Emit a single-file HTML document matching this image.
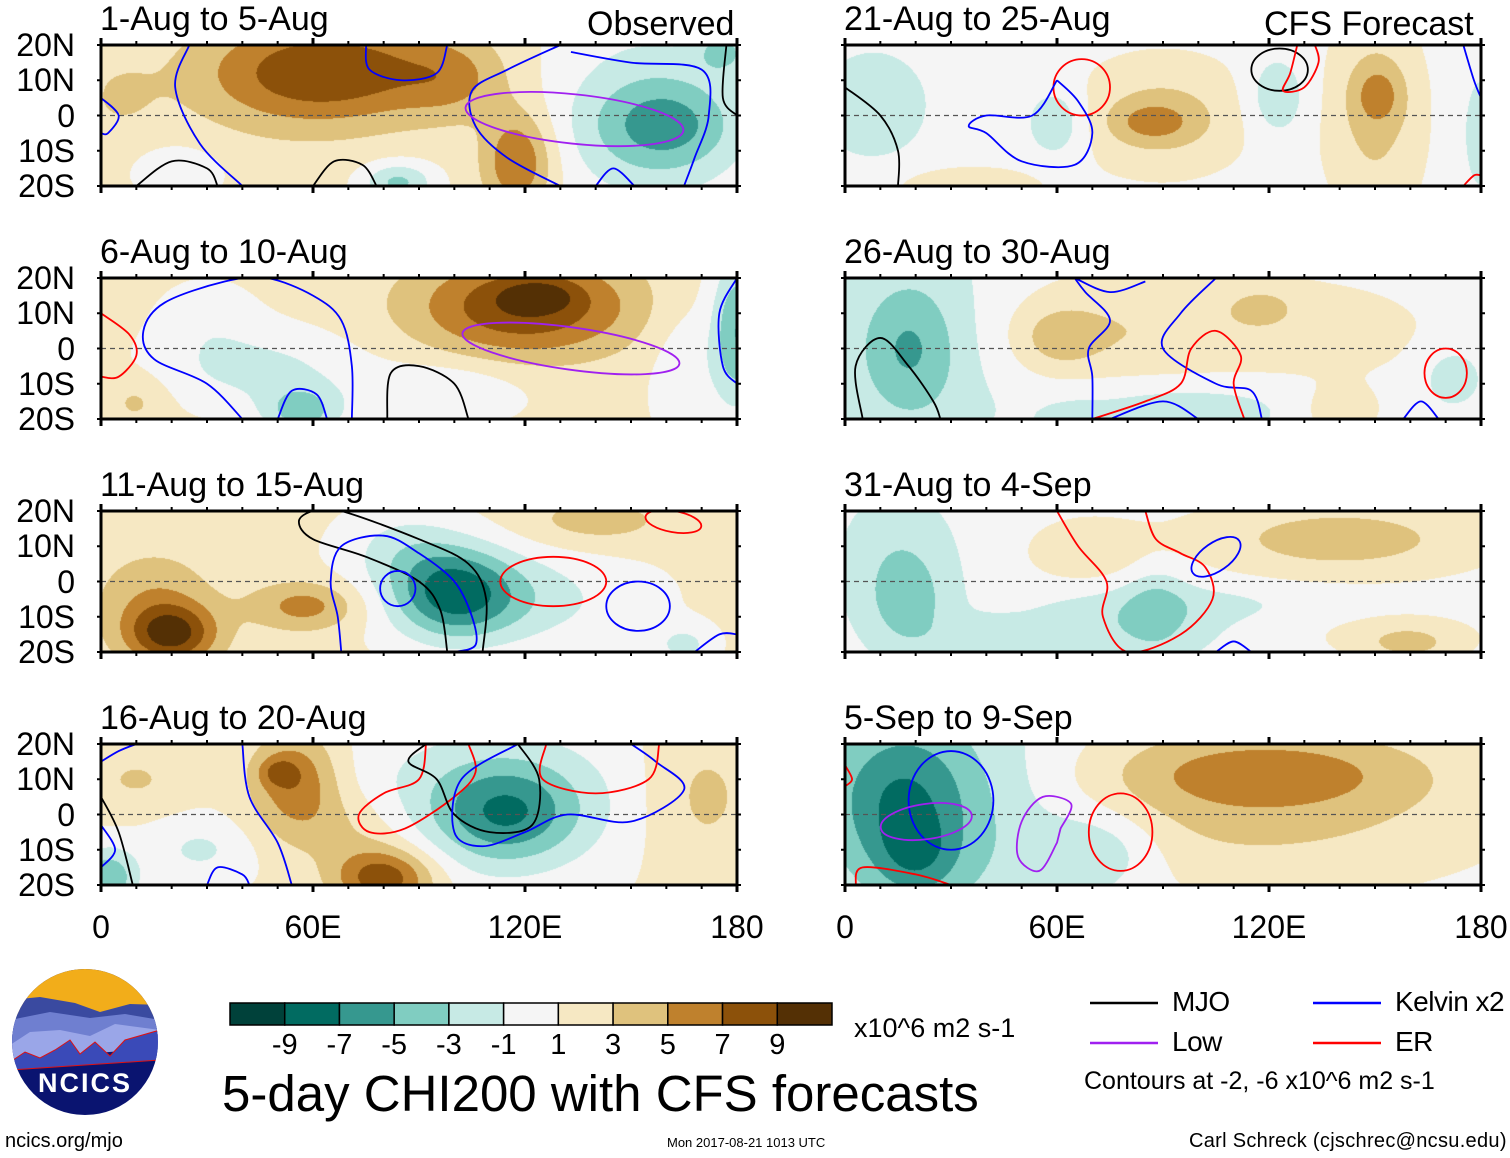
<!DOCTYPE html>
<html><head><meta charset="utf-8">
<style>
body{margin:0;background:#fff;width:1510px;height:1158px;overflow:hidden;position:relative;font-family:"Liberation Sans",Arial,sans-serif;}
.t{position:absolute;white-space:nowrap;color:#000;line-height:1;}
canvas{position:absolute;}
svg{position:absolute;left:0;top:0;}
</style></head>
<body>
<div id="root"></div>
<svg id="ov" width="1510" height="1158"></svg>
<script>
// ---------- data ----------
const panelTitles=["1-Aug to 5-Aug","6-Aug to 10-Aug","11-Aug to 15-Aug","16-Aug to 20-Aug","21-Aug to 25-Aug","26-Aug to 30-Aug","31-Aug to 4-Sep","5-Sep to 9-Sep"];
const panelBase=[1.5,1.5,1.5,1.2,0,0,0,0];
// anomaly blobs: [lon, lat, sigmaLon, sigmaLat, amplitude]
const blobs1=[[68,13,25,10,5.3],[55,10,22,12,2.5],[118,-13,7,10,6],[100,10,10,8,2.5],[84,-19,7,4,-5],[160,-3,14,9,-4.5],[155,0,22,22,-3.5],[176,18,5,4,-4],[22,-16,8,5,-2.5],[5,5,8,8,1.5]];
const blobs2=[[120,12,22,10,7.5],[124,15,7,3,3],[57,-18,8,5,-5],[45,-6,20,8,-3],[98,-12,15,6,-2.5],[180,5,5,15,-6.5],[165,-5,7,15,-2],[10,-15,6,5,2],[30,8,10,8,-1.5]];
const blobs3=[[20,-15,9,6,7.5],[15,-5,12,10,3],[58,-7,11,5,4.5],[100,-3,12,9,-7.3],[115,-5,25,10,-3.5],[140,17,15,5,2.5],[85,10,12,8,-2.5],[165,-18,6,4,-3]];
const blobs4=[[55,10,9,10,5.5],[50,12,4,3,3],[80,-18,10,6,7.5],[68,-4,14,8,2.5],[115,0,14,10,-5.5],[110,5,30,15,-3.5],[2,-18,6,6,-6],[10,10,10,6,2],[28,-10,10,6,-2.5],[170,5,12,15,2.5]];
const blobs5=[[87,-2,8,4,3],[90,0,18,12,3.5],[151,6,5,6,3],[150,0,10,22,3.5],[8,3,10,10,-3],[60,-2,6,7,-3],[122,5,6,8,-3],[35,-20,15,4,2.5],[180,-5,3,10,-3]];
const blobs6=[[18,0,9,12,-3],[20,0,18,25,-2.5],[60,3,8,6,2.5],[75,5,25,12,2.5],[95,-17,25,6,-2.5],[65,-20,6,3,-2],[118,12,7,4,2],[130,5,30,12,1.8],[140,-18,8,5,2.5],[172,-8,6,6,-2.5]];
const blobs7=[[18,-8,8,10,-2.5],[40,-18,10,5,-2.5],[15,5,12,15,-2.5],[88,-7,6,8,-2.3],[80,-12,20,8,-2.5],[140,12,30,8,4],[68,8,12,7,2.5],[160,-18,10,4,2.5],[155,-15,20,5,1.5],[110,-6,25,4,-1]];
const blobs8=[[15,5,14,15,-4.5],[20,-12,8,8,-3],[30,0,28,25,-4],[120,12,28,7,3],[115,5,50,18,4],[72,-10,12,8,-3]];
const panelBlobs=[blobs1,blobs2,blobs3,blobs4,blobs5,blobs6,blobs7,blobs8];
const levelEdges=[-9,-7,-5,-3,-1,1,3,5,7,9];
const levelColors=["#00413a","#016b61","#36988f","#80cdc1","#c7eae5","#f5f5f5","#f6e8c3","#dfc27d","#bf812d","#8c510a","#543005"];
const cbLabels=["-9","-7","-5","-3","-1","1","3","5","7","9"];
const latLabels=["20N","10N","0","10S","20S"];
const lonLabels=["0","60E","120E","180"];
// contours: [type, closed, points[[lon,lat]...]] ; ellipses: ["E", type, lon, lat, rx, ry, rotDeg]
const cont1=[["k",0,[[75,20],[76,13],[85,10],[95,12],[98,20]]],["k",0,[[130,20],[115,13],[105,7],[106,-3],[115,-12],[130,-20]]],["k",0,[[133,18],[150,15],[170,13],[172,0],[168,-12],[165,-20]]],["k",0,[[0,5],[5,0],[2,-5],[0,-5]]],["k",0,[[25,20],[21,8],[28,-8],[40,-20]]],["m",0,[[10,-20],[20,-13],[30,-15],[33,-20]]],["m",0,[[60,-20],[66,-13],[74,-14],[78,-20]]],["m",0,[[177,20],[176,5],[180,0]]],["k",0,[[140,-20],[145,-15],[151,-20]]],["E","p",134,-1,31,7,6]];
const cont2=[["r",0,[[0,10],[8,4],[10,-2],[5,-8],[0,-8]]],["k",0,[[40,-20],[30,-10],[15,-3],[12,5],[18,13],[35,19],[47,20],[60,15],[68,8],[71,-5],[71,-20]]],["k",0,[[50,-20],[54,-12],[61,-13],[64,-20]]],["m",0,[[81,-20],[82,-7],[90,-5],[100,-10],[104,-20]]],["E","p",133,0,31,6,8],["k",0,[[180,20],[175,10],[176,-5],[180,-10]]]];
const cont3=[["m",0,[[98,-20],[96,-8],[90,0],[75,7],[60,12],[56,17],[60,20],[68,20],[90,12],[104,5],[109,-5],[108,-20]]],["k",0,[[68,-20],[67,-10],[65,0],[68,10],[80,13],[90,8],[100,0],[105,-10],[106,-18],[100,-20]]],["E","k",84,-2,5,5,0],["E","r",128,0,15,7,0],["E","k",152,-7,9,7,0],["k",0,[[168,-20],[175,-15],[180,-15]]],["E","r",162,17,8,3,10]];
const cont4=[["m",0,[[0,5],[5,-5],[9,-20]]],["k",0,[[0,-3],[4,-10],[0,-15]]],["k",0,[[0,15],[5,18],[10,20]]],["k",0,[[40,20],[42,5],[50,-8],[54,-20]]],["k",0,[[30,-20],[33,-15],[40,-17],[42,-20]]],["r",0,[[92,20],[90,10],[80,6],[73,0],[76,-5],[86,-4],[100,5],[106,12],[104,20]]],["m",0,[[92,20],[87,15],[95,10],[100,0],[110,-5],[122,-3],[124,10],[118,20]]],["k",0,[[118,20],[102,10],[100,-5],[108,-9],[120,-5],[132,0],[150,-2],[165,7],[157,15],[150,20]]],["r",0,[[126,20],[125,10],[140,6],[155,10],[158,20]]]];
const cont5=[["m",0,[[0,8],[10,0],[15,-10],[15,-20]]],["E","m",123,13,8,6,0],["r",0,[[128,20],[126,12],[124,7],[130,8],[134,15],[133,20]]],["E","r",67,8,8,8,0],["k",0,[[60,10],[66,4],[70,-5],[65,-14],[50,-13],[40,-5],[35,-3],[40,0],[53,0],[60,10]]],["k",0,[[175,20],[178,10],[180,5]]],["r",0,[[175,-20],[178,-17],[180,-17]]]];
const cont6=[["m",0,[[5,-20],[3,-5],[10,3],[18,-5],[25,-15],[27,-20]]],["k",0,[[70,-20],[70,-8],[69,0],[75,8],[68,16],[65,20]]],["k",0,[[65,20],[75,16],[85,19]]],["k",0,[[105,20],[95,10],[90,0],[105,-10],[115,-12],[118,-20]]],["r",0,[[70,-20],[85,-15],[95,-10],[98,0],[105,5],[112,-2],[110,-10],[113,-20]]],["k",0,[[75,-20],[90,-15],[100,-20]]],["E","r",170,-7,6,7,0],["k",0,[[158,-20],[163,-15],[168,-20]]]];
const cont7=[["r",0,[[60,20],[66,10],[74,0],[73,-10],[80,-20],[95,-15],[104,-5],[102,4],[95,8],[88,12],[85,20]]],["E","k",105,7,8,4,-35],["k",0,[[105,-20],[110,-17],[115,-20]]]];
const cont8=[["E","k",30,4,12,14,0],["E","p",23,-2,13,5,-8],["p",1,[[60,-8],[55,-16],[49,-12],[50,-2],[56,5],[64,3],[61,-4]]],["E","r",78,-5,9,11,0],["r",0,[[3,-20],[5,-15],[20,-17],[30,-20]]],["r",0,[[0,14],[2,10],[0,8]]]];
const panelContours=[cont1,cont2,cont3,cont4,cont5,cont6,cont7,cont8];
const colorOf={k:"#0000ff",m:"#000000",p:"#a020f0",r:"#ff0000"};

// ---------- layout ----------
const PW=636,PH=141;
const colX=[101,845], rowY=[45,278,511,744];
const NS="http://www.w3.org/2000/svg";
const ov=document.getElementById('ov');
const root=document.getElementById('root');
function svgEl(tag,attrs,parent){const e=document.createElementNS(NS,tag);for(const k in attrs)e.setAttribute(k,attrs[k]);(parent||ov).appendChild(e);return e;}
function txt(s,x,y,size,name,extra){const d=document.createElement('div');d.className='t';d.textContent=s;d.style.left=x+'px';d.style.top=y+'px';d.style.fontSize=size+'px';if(extra)Object.assign(d.style,extra);


root.appendChild(d);return d;}
function levelIndex(v){let i=0;while(i<levelEdges.length&&v>=levelEdges[i])i++;return i;}
function hex(c){return [parseInt(c.slice(1,3),16),parseInt(c.slice(3,5),16),parseInt(c.slice(5,7),16)];}
const rgb=levelColors.map(hex);

for(let p=0;p<8;p++){
  const px=colX[p<4?0:1], py=rowY[p%4];
  const xs=lon=>px+lon/180*PW, ys=lat=>py+(20-lat)/40*PH;
  const cv=document.createElement('canvas');cv.width=PW;cv.height=PH;cv.style.left=px+'px';cv.style.top=py+'px';
  
  
  root.appendChild(cv);
  const ctx=cv.getContext('2d');const img=ctx.createImageData(PW,PH);const B=panelBlobs[p];
  for(let j=0;j<PH;j++){const lat=20-(j+0.5)/PH*40;for(let i=0;i<PW;i++){const lon=(i+0.5)/PW*180;let v=panelBase[p];
    for(const b of B){const dx=(lon-b[0])/b[2],dy=(lat-b[1])/b[3];v+=b[4]*Math.exp(-0.5*(dx*dx+dy*dy));}
    const c=rgb[levelIndex(v)];const k=(j*PW+i)*4;img.data[k]=c[0];img.data[k+1]=c[1];img.data[k+2]=c[2];img.data[k+3]=255;}}
  ctx.putImageData(img,0,0);
  const cid='clip'+p;const cp=svgEl('clipPath',{id:cid});svgEl('rect',{x:px,y:py,width:PW,height:PH},cp);
  const g=svgEl('g',{'clip-path':'url(#'+cid+')'});
  
  
  const eq=svgEl('line',{x1:px,x2:px+PW,y1:ys(0),y2:ys(0),stroke:'#555','stroke-width':1.3,'stroke-dasharray':'5,4'},g);
  
  
  for(const c of panelContours[p]){
    let el;
    if(c[0]==="E"){el=svgEl('ellipse',{cx:xs(c[2]),cy:ys(c[3]),rx:c[4]/180*PW,ry:c[5]/40*PH,transform:`rotate(${c[6]} ${xs(c[2])} ${ys(c[3])})`,fill:'none',stroke:colorOf[c[1]],'stroke-width':1.8},g);}
    else{const pts=c[2].map(q=>[xs(q[0]),ys(q[1])]);let d='M'+pts[0][0]+','+pts[0][1];
      const n=pts.length;const P=i=>pts[Math.max(0,Math.min(n-1,i))];
      for(let i=0;i<n-1;i++){const p0=P(i-1),p1=P(i),p2=P(i+1),p3=P(i+2);
        d+=` C${p1[0]+(p2[0]-p0[0])/6},${p1[1]+(p2[1]-p0[1])/6} ${p2[0]-(p3[0]-p1[0])/6},${p2[1]-(p3[1]-p1[1])/6} ${p2[0]},${p2[1]}`;}
      if(c[1])d+='Z';
      el=svgEl('path',{d:d,fill:'none',stroke:colorOf[c[0]],'stroke-width':1.8},g);}
    
    
  }
  const fr=svgEl('rect',{x:px,y:py,width:PW,height:PH,fill:'none',stroke:'#000','stroke-width':3});
  
  
  for(let lon=0;lon<=180;lon+=10){const major=lon%60===0;const L=major?7:4;
    svgEl('line',{x1:xs(lon),x2:xs(lon),y1:py-L,y2:py,stroke:'#000','stroke-width':major?3:2});
    svgEl('line',{x1:xs(lon),x2:xs(lon),y1:py+PH,y2:py+PH+L,stroke:'#000','stroke-width':major?3:2});}
  for(let lat=-20;lat<=20;lat+=10){svgEl('line',{x1:px-4,x2:px,y1:ys(lat),y2:ys(lat),stroke:'#000','stroke-width':2});svgEl('line',{x1:px+PW,x2:px+PW+4,y1:ys(lat),y2:ys(lat),stroke:'#000','stroke-width':2});}
  txt(panelTitles[p],px-1,py-43,34,'panel-title');
  if(p<4){latLabels.forEach((s,i)=>{const d=txt(s,0,py+i*PH/4-16,32,'lat-label');d.style.width='75px';d.style.textAlign='right';});}
  if(p%4===3){lonLabels.forEach((s,i)=>{const d=txt(s,px+i*PW/3-60,911,32,'lon-label');d.style.width='120px';d.style.textAlign='center';});}
}
txt("Observed",587,7,34,'observed-label');
txt("CFS Forecast",1264,7,34,'cfs-forecast-label');

// colorbar
const cbX=230,cbW=602,cbY=1003,cbH=22,nb=levelColors.length;
levelColors.forEach((c,i)=>{const r=svgEl('rect',{x:cbX+i*cbW/nb,y:cbY,width:cbW/nb,height:cbH,fill:c,stroke:'#000','stroke-width':1.5});

});
cbLabels.forEach((s,i)=>{const d=txt(s,cbX+(i+1)*cbW/nb-30,1031,29,'colorbar-tick-label');d.style.width='60px';d.style.textAlign='center';});
txt("x10^6 m2 s-1",854,1015,27,'colorbar-units');
txt("5-day CHI200 with CFS forecasts",222,1068,51,'figure-title');

// legend
const leg=[["MJO","#000",1090,1003],["Kelvin x2","#0000ff",1313,1003],["Low","#a020f0",1090,1043],["ER","#ff0000",1313,1043]];
leg.forEach(l=>{const ln=svgEl('line',{x1:l[2],x2:l[2]+68,y1:l[3],y2:l[3],stroke:l[1],'stroke-width':2.5});


txt(l[0],l[2]+82,l[3]-15,28,'legend-entry',{letterSpacing:'-0.5px'});});
txt("Contours at -2, -6 x10^6 m2 s-1",1084,1069,25,'contour-note');
txt("Carl Schreck (cjschrec@ncsu.edu)",1189,1131,20,'author-credit',{letterSpacing:'0.3px'});
txt("Mon 2017-08-21 1013 UTC",667,1136,13,'timestamp');
txt("ncics.org/mjo",5,1131,20,'website-label');

// logo
const lg=svgEl('g',{});


const lcp=svgEl('clipPath',{id:'lc'});svgEl('circle',{cx:85,cy:1042,r:73},lcp);
const lgi=svgEl('g',{'clip-path':'url(#lc)'},lg);
svgEl('rect',{x:10,y:965,width:150,height:160,fill:'#0a1470'},lgi);
svgEl('rect',{x:10,y:965,width:150,height:50,fill:'#f2ad1a'},lgi);
svgEl('path',{d:'M10,1000 L40,997 L75,1003 L100,1012 L130,1004 L160,1005 L160,1035 L10,1040Z',fill:'#3a4aa0'},lgi);
svgEl('path',{d:'M10,1020 L50,1012 L90,1018 L125,1014 L160,1020 L160,1040 L10,1045Z',fill:'#6f7fd0'},lgi);
svgEl('path',{d:'M10,1045 L30,1032 L60,1030 L90,1036 L115,1024 L160,1030 L160,1048 L10,1060Z',fill:'#9aa6e8'},lgi);
svgEl('path',{d:'M10,1062 L25,1052 L40,1058 L55,1050 L70,1040 L80,1054 L95,1042 L110,1056 L125,1040 L160,1030 L160,1060 L10,1070Z',fill:'#3a4ab8',stroke:'#e01010','stroke-width':1},lgi);
const nt=svgEl('text',{x:85,y:1092,'text-anchor':'middle','font-size':27,'font-weight':'bold',fill:'#fff','font-family':'Liberation Sans, sans-serif','letter-spacing':'2'},lg);nt.textContent='NCICS';
</script>
</body></html>
